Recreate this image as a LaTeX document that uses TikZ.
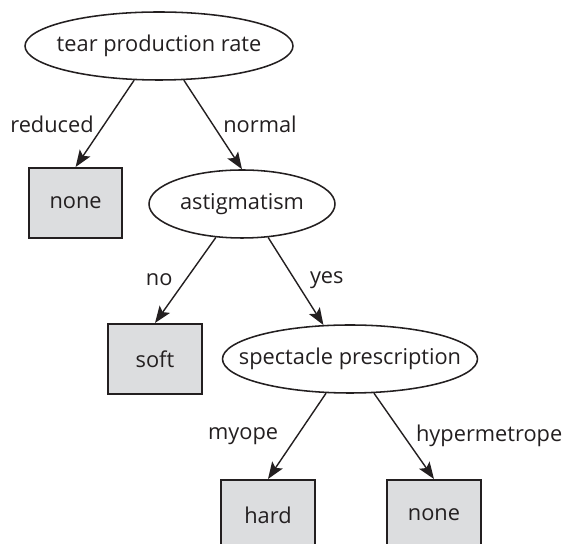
\documentclass[tikz,border=0pt]{standalone}
\usepackage{fontspec}
\setmainfont{Open Sans}
\usetikzlibrary{shapes.geometric}
\usetikzlibrary{arrows.meta}

\definecolor{inkcol}{HTML}{231F20}
\definecolor{leafgray}{HTML}{DCDDDF}

\begin{document}
\begin{tikzpicture}[
	attr/.style={ellipse, draw=inkcol, line width=1.1pt, minimum width=#1, minimum height=1.7cm, inner sep=0pt},
	leaf/.style={rectangle, draw=inkcol, line width=1.4pt, fill=leafgray, minimum width=2.33cm, minimum height=1.75cm, inner sep=0pt},
	edge/.style={line width=1pt, draw=inkcol, -{Stealth[length=12pt, width=9pt, inset=2.5pt]}},
	every node/.style={text=inkcol, font=\fontsize{15.5}{18}\selectfont}
]
	\useasboundingbox (0,0) rectangle (14.05,13.6);
	% tree nodes
	\node [attr=6.7cm] (tpr) at (3.975,12.45) {\makebox[0pt]{tear production rate}};
	\node [leaf] (none1) at (1.89,8.525) {none};
	\node [attr=4.65cm] (ast) at (6.05,8.5) {\makebox[0pt]{astigmatism}};
	\node [leaf] (soft) at (3.875,4.625) {soft};
	\node [attr=6.375cm] (spec) at (8.75,4.625) {\makebox[0pt]{spectacle prescription}};
	\node [leaf] (hard) at (6.7,0.725) {hard};
	\node [leaf] (none2) at (10.85,0.725) {none};
	% branches
	\draw [edge] (tpr.-126) -- (none1.north);
	\draw [edge] (tpr.-54) -- (ast.north);
	\draw [edge] (ast.-128) -- (soft.north);
	\draw [edge] (ast.-52) -- (spec.128);
	\draw [edge] (spec.-125) -- (hard.north);
	\draw [edge] (spec.-55) -- (none2.north);
	% branch labels
	\node (lreduced) at (1.3,10.5) {reduced};
	\node (lnormal) at (6.5,10.5) {normal};
	\node (lno) at (3.98,6.6) {no};
	\node (lyes) at (8.17,6.6) {yes};
	\node (lmyope) at (6.08,2.7) {myope};
	\node (lhyper) at (12.23,2.7) {hypermetrope};
\end{tikzpicture}
\end{document}
